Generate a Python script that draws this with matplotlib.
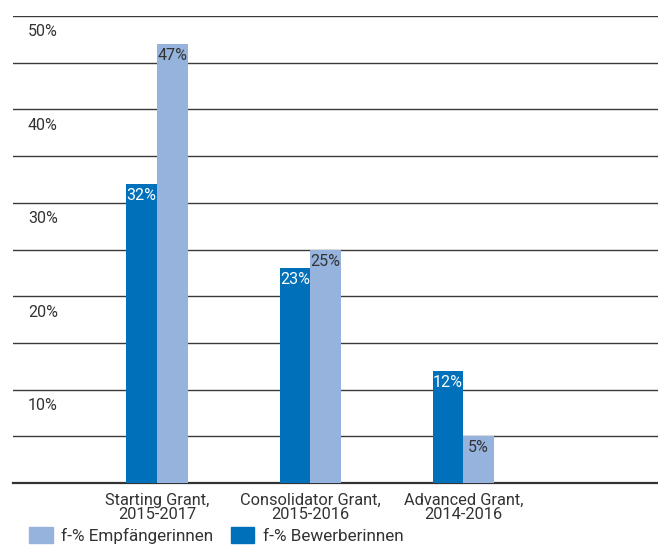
import matplotlib
matplotlib.use('Agg')
from matplotlib import pyplot as plt
from matplotlib.patches import Patch
import matplotlib.transforms as mtransforms
import numpy as np

categories = ["Starting Grant,\n2015-2017", "Consolidator Grant,\n2015-2016", "Advanced Grant,\n2014-2016"]
bewerberinnen = [32, 23, 12]
empfaengerinnen = [47, 25, 5]
y_labels = ["10%", "20%", "30%", "40%", "50%"]
y_label_vals = [10, 20, 30, 40, 50]

dark = "#0070ba"
light = "#95b3dc"
txt = "#333333"

plt.rcParams['font.family'] = ['Roboto', 'DejaVu Sans']

fig = plt.figure(figsize=(6.58, 5.48), dpi=100)
ax = fig.add_axes([13/658, 65/548, 645/658, 467/548])

x = np.arange(len(categories))
w = 0.2
b1 = ax.bar(x - w/2, bewerberinnen, w, color=dark, zorder=3)
b2 = ax.bar(x + w/2, empfaengerinnen, w, color=light, zorder=3)

for rect, v in zip(b1, bewerberinnen):
	ax.annotate("%d%%" % v, (rect.get_x() + rect.get_width()/2, v), xytext=(0, -3),
		textcoords='offset points', ha='center', va='top', color='white', fontsize=11.5, zorder=4)
for rect, v in zip(b2, empfaengerinnen):
	ax.annotate("%d%%" % v, (rect.get_x() + rect.get_width()/2, v), xytext=(0, -3),
		textcoords='offset points', ha='center', va='top', color=txt, fontsize=11.5, zorder=4)

ax.set_xlim(-0.94, 3.27)
ax.set_ylim(0, 50)
ax.set_yticks(np.arange(5, 51, 5))
ax.set_yticklabels([])
ax.yaxis.grid(True, color='#3a3a3a', linewidth=1)
ax.set_axisbelow(True)
ax.tick_params(axis='y', length=0)

trans = mtransforms.blended_transform_factory(ax.transAxes, ax.transData)
for v, lab in zip(y_label_vals, y_labels):
	ax.annotate(lab, (0.023, v), xycoords=trans, xytext=(0, -6), textcoords='offset points',
		ha='left', va='top', color=txt, fontsize=11.5)

ax.set_xticks(x)
ax.set_xticklabels(categories, fontsize=11.8, color=txt, linespacing=0.95)
ax.tick_params(axis='x', length=0, pad=7)

for s in ['top', 'left', 'right']:
	ax.spines[s].set_visible(False)
ax.spines['bottom'].set_color('#333333')
ax.spines['bottom'].set_linewidth(1.6)

handles = [Patch(color=light, label="f-% Empfängerinnen"), Patch(color=dark, label="f-% Bewerberinnen")]
fig.legend(handles=handles, loc='lower left', bbox_to_anchor=(22/658, -0.005), ncol=2, frameon=False,
	fontsize=12.3, handlelength=1.4, handleheight=1.0, handletextpad=0.5, columnspacing=1.0,
	labelcolor=txt, borderaxespad=0)

fig.savefig("out.png", dpi=100, facecolor='w')
plt.close()
